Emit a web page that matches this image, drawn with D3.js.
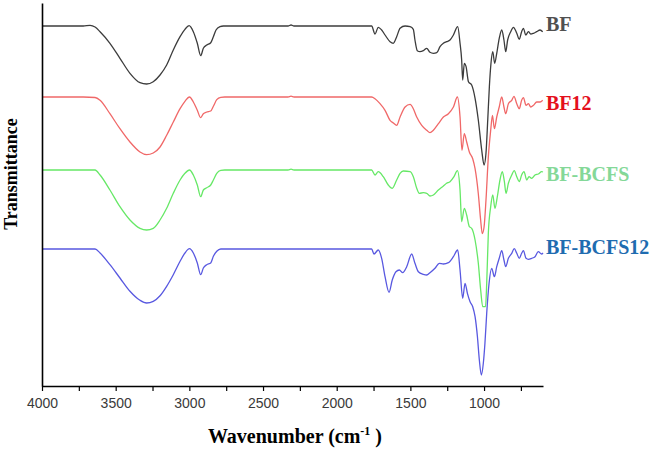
<!DOCTYPE html>
<html>
<head>
<meta charset="utf-8">
<script src="https://cdn.jsdelivr.net/npm/d3@7"></script>
<style>
  body { margin: 0; background: #fff; }
  svg { display: block; }
</style>
</head>
<body>
<svg id="chart" width="661" height="453"></svg>
<script>
// Series names, colours and vertical stacking offsets (a.u.)
const names = ["BF", "BF12", "BF-BCFS", "BF-BCFS12"];
const lineColors = ["#3c3c3c", "#f06868", "#66e866", "#5858e0"];
const labelColors = ["#505050", "#e4101c", "#84d898", "#1f6cb0"];
const offsets = [360, 289, 216, 137];

// [wavenumber (cm-1), transmittance relative to baseline (a.u.)]
const bf = [
  [4000, 0], [3720, 0], [3674, 0.7], [3640, -1], [3606, -5.7], [3539, -17.3], [3471, -32.3], [3403, -47.3],
  [3335, -56.7], [3290, -58], [3245, -55.7], [3199, -49], [3154, -39], [3109, -24], [3063, -10.7], [3030, -3.3],
  [3002, 0.3], [2973, -5.7], [2946, -17.3], [2923, -29.7], [2905, -22.3], [2882, -19], [2855, -16.7], [2837, -10.7],
  [2819, -4], [2792, -0.7], [2769, 0], [2330, 0], [2310, 1], [2290, 0], [1774, 0], [1763, 0], [1740, -8],
  [1718, -1.3], [1695, -4], [1672, -9], [1638, -15.7], [1616, -17.3], [1593, -10.7], [1570, -2.3], [1536, 0],
  [1502, -0.7], [1480, -3.3], [1469, -14], [1453, -24.7], [1435, -25.7], [1412, -24.7], [1389, -22.3], [1367, -26.3],
  [1344, -27.3], [1321, -26.7], [1299, -20.7], [1276, -17.3], [1254, -15.7], [1231, -14], [1208, -9], [1179, -0.7],
  [1163, -17.3], [1152, -34], [1145, -54], [1134, -37.3], [1122, -40.7], [1106, -55.7], [1084, -59], [1061, -72.3],
  [1039, -94], [1016, -124], [1000, -139], [987, -127.3], [975, -94], [964, -60.7], [953, -37.3], [941, -25.7],
  [928, -37.3], [914, -27.3], [897, -12.3], [880, -4], [865, -14], [853, -25.7], [840, -14], [819, -5.7],
  [801, -1.3], [778, -7.3], [761, -13.3], [745, -5.7], [733, -2.3], [717, -9], [699, -5.7], [683, -8],
  [665, -7.3], [643, -5.7], [620, -4], [602, -5.7]
];
const bf12 = [
  [4000, 0], [3720, 0], [3640, -0.5], [3606, -3.3], [3539, -16.7], [3471, -31.7], [3403, -45], [3335, -55],
  [3290, -57.7], [3245, -56], [3199, -50], [3154, -38.3], [3109, -25], [3063, -11.7], [3030, -4.3], [2999, 0],
  [2973, -5], [2946, -13.3], [2923, -20.7], [2905, -16.7], [2882, -15], [2855, -14], [2837, -9.3], [2814, -2.7],
  [2787, -0.3], [2760, 0], [2330, 0], [2310, 0.8], [2290, 0], [1763, 0], [1740, -1.7], [1706, -6.7],
  [1672, -13.3], [1638, -23.3], [1616, -26], [1593, -28.3], [1570, -20], [1536, -10], [1502, -7.3], [1480, -11.7],
  [1457, -20], [1423, -28.3], [1389, -33.3], [1367, -35.7], [1344, -33.3], [1310, -26.7], [1276, -20], [1242, -16.7],
  [1208, -10], [1181, 0], [1163, -20], [1150, -53.3], [1134, -36.7], [1118, -45], [1100, -55], [1077, -61.7],
  [1061, -71.7], [1039, -96.7], [1023, -123.3], [1012, -136.7], [1000, -130], [987, -103.3], [971, -60], [955, -33.3],
  [943, -18.3], [930, -31.7], [914, -20], [897, -10], [880, 0], [865, -10], [853, -16.7], [835, -6.7],
  [812, -3.3], [797, 0.7], [778, -6.7], [761, -11.7], [745, -3.3], [733, -0.7], [715, -8.3], [699, -6.7],
  [683, -10], [665, -8.3], [643, -5], [620, -5], [602, -3.3]
];
const bfBcfs = [
  [4000, 0], [3720, 0], [3640, 0], [3606, -5], [3539, -20], [3471, -36.7], [3403, -50], [3335, -58.3],
  [3290, -60], [3245, -58.3], [3199, -50], [3154, -38.3], [3109, -23.3], [3063, -10], [3030, -3.3], [2999, 0],
  [2973, -5], [2946, -15], [2923, -26.7], [2905, -20], [2882, -17.7], [2855, -15], [2837, -10], [2814, -3.3],
  [2787, -0.3], [2760, 0], [2330, 0], [2310, 0.8], [2290, 0], [1763, 0], [1740, -5], [1718, -1.7],
  [1684, -6.7], [1650, -15], [1623, -18.3], [1593, -10], [1570, -3.3], [1548, -1], [1502, -1.7], [1480, -6.7],
  [1457, -18.3], [1440, -23.3], [1412, -22.7], [1389, -23.3], [1367, -26], [1344, -25], [1310, -20], [1276, -16],
  [1254, -13.3], [1231, -11.7], [1204, -6.7], [1181, -0.7], [1163, -20], [1152, -51.7], [1134, -38.3], [1118, -45],
  [1100, -56.7], [1084, -58.3], [1061, -70], [1039, -93.3], [1023, -120], [1009, -136.7], [990, -136.7], [982, -113.3],
  [971, -63.3], [955, -36.7], [941, -25], [926, -38.3], [910, -26.7], [892, -10], [876, -1.7], [862, -11.7],
  [851, -23.3], [835, -13.3], [812, -5], [795, -0.7], [778, -6.7], [761, -11.7], [745, -5], [729, -1.7],
  [710, -10], [695, -6.7], [677, -8.3], [654, -5], [632, -4], [609, -1.7], [600, -2]
];
const bfBcfs12 = [
  [4000, 0], [3720, 0], [3640, 0], [3606, -4], [3539, -15.7], [3471, -29], [3403, -42.3], [3335, -51.3],
  [3290, -54], [3245, -52.3], [3199, -46.7], [3154, -37.3], [3109, -25.7], [3063, -12.3], [3030, -4], [2999, 0.3],
  [2973, -4], [2946, -14], [2923, -25.7], [2905, -19], [2882, -15.7], [2855, -14], [2837, -7.3], [2814, -2.3],
  [2787, 0], [1763, 0], [1747, -5], [1718, -1], [1695, -9.3], [1672, -27.7], [1645, -43.3], [1623, -31],
  [1598, -22.7], [1575, -21], [1552, -23.7], [1525, -17.7], [1491, -5], [1469, -14.3], [1446, -22.7], [1412, -25.3],
  [1389, -26], [1367, -23.7], [1333, -19.3], [1304, -14.3], [1276, -15], [1242, -13.7], [1208, -7.7], [1179, -1],
  [1163, -21], [1145, -49.3], [1129, -34.3], [1113, -44.3], [1095, -52.7], [1077, -57.7], [1061, -67.7], [1045, -87.7],
  [1032, -111], [1018, -126], [1005, -114.3], [994, -94.3], [982, -64.3], [966, -34.3], [948, -19.3], [930, -27.7],
  [914, -17.7], [897, -9.3], [880, -1.7], [865, -11], [853, -17.7], [835, -9.3], [812, -4.3], [795, 0.3],
  [778, -4.3], [761, -9.3], [745, -4.3], [733, -1.7], [715, -9.3], [699, -10.3], [677, -9.3], [654, -7.7],
  [632, -2.7], [609, -5], [600, -4]
];
const spectra = [bf, bf12, bfBcfs, bfBcfs12];

const xTicks = [4000, 3750, 3500, 3250, 3000, 2750, 2500, 2250, 2000, 1750, 1500, 1250, 1000, 750];
const xDomain = [4000, 600];
const yDomain = [0, 383];

const svg = d3.select("#chart");
const x = d3.scaleLinear(xDomain, [42, 543]);
const y = d3.scaleLinear(yDomain, [386, 3]);

// Spectra
spectra.forEach((s, i) => {
  const line = d3.line()
    .x((d) => x(d[0]))
    .y((d) => y(offsets[i] + d[1]))
    .curve(d3.curveMonotoneX);
  svg.append("path")
    .datum(s)
    .attr("d", line)
    .attr("fill", "none")
    .attr("stroke", lineColors[i])
    .attr("stroke-width", 1.3)
    .attr("stroke-linejoin", "round");
});

// Axes
const xAxis = svg.append("g")
  .attr("transform", `translate(0,${y(0)})`)
  .call(
    d3.axisBottom(x)
      .tickValues(xTicks)
      .tickSize(5)
      .tickSizeOuter(0)
      .tickPadding(7)
      .tickFormat((d) => (d % 500 === 0 ? d : ""))
  );
xAxis.select(".domain").attr("stroke", "#000").attr("stroke-width", 1.6);
xAxis.selectAll(".tick line").attr("stroke", "#000").attr("stroke-width", 1.2);
xAxis.selectAll(".tick text")
  .attr("font-family", "'Liberation Sans', Arial, sans-serif")
  .attr("font-size", 14)
  .attr("fill", "#3a3a3a");

const yAxis = svg.append("g")
  .attr("transform", `translate(${x(4000)},0)`)
  .call(d3.axisLeft(y).tickValues([]).tickSizeOuter(0));
yAxis.select(".domain").attr("stroke", "#000").attr("stroke-width", 1.6);

// Series labels at the right end
const labelNudge = [-2, 6, 4, -2];
svg.selectAll("text.series-label")
  .data(names)
  .join("text")
  .attr("class", "series-label")
  .attr("x", x(xDomain[1]) + 3)
  .attr("y", (d, i) => y(offsets[i]) + labelNudge[i])
  .attr("dy", "0.35em")
  .attr("font-family", "'Liberation Serif', 'Times New Roman', serif")
  .attr("font-weight", "bold")
  .attr("font-size", 20)
  .attr("fill", (d, i) => labelColors[i])
  .text((d) => d);

// Axis titles
svg.append("text")
  .attr("transform", "translate(17,174) rotate(-90)")
  .attr("text-anchor", "middle")
  .attr("font-family", "'Liberation Serif', 'Times New Roman', serif")
  .attr("font-weight", "bold")
  .attr("font-size", 18)
  .attr("fill", "#000")
  .text("Transmittance");

const xTitle = svg.append("text")
  .attr("x", 295)
  .attr("y", 443)
  .attr("text-anchor", "middle")
  .attr("font-family", "'Liberation Serif', 'Times New Roman', serif")
  .attr("font-weight", "bold")
  .attr("font-size", 20)
  .attr("fill", "#000");
xTitle.append("tspan").text("Wavenumber (cm");
xTitle.append("tspan").attr("font-size", 12).attr("dy", -8).text("-1");
xTitle.append("tspan").attr("dy", 8).text(" )");
</script>
</body>
</html>
